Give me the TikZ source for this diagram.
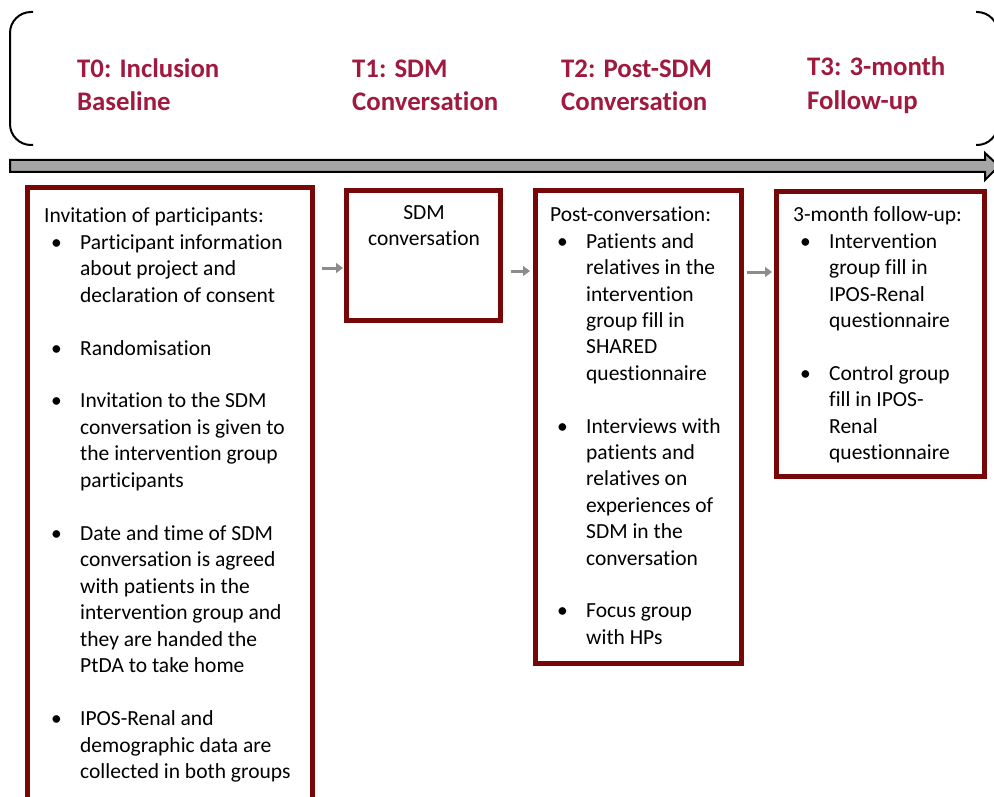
\documentclass[tikz,border=0pt]{standalone}
\usepackage{fontspec}
\setmainfont[Ligatures=CommonOff]{Carlito}
\usetikzlibrary{arrows.meta}
\definecolor{hdrred}{HTML}{A01A40}
\definecolor{boxred}{HTML}{780808}
\definecolor{bandgray}{HTML}{A6A6A6}
\definecolor{smallgray}{HTML}{8C8C8C}
\newcommand\bl{\makebox[36pt][l]{\hspace{7pt}\textbullet}}
\newcommand\ind{\hspace*{36pt}}
\newcommand\rows[1]{\begin{tabular}[t]{@{}l@{}}#1\end{tabular}}
\begin{document}
\begin{tikzpicture}[x=1pt,y=-1pt,
  phase/.style={anchor=base west, inner sep=0pt, text=hdrred,
    font=\fontsize{26.8}{33.5}\selectfont\bfseries},
  body/.style={anchor=base west, inner sep=0pt,
    font=\fontsize{21.5}{26.4}\selectfont},
  redbox/.style={draw=boxred, line width=5pt, inner sep=0pt, fill=none},
  bracket/.style={line width=2pt, rounded corners=21pt},
  sarrow/.style={draw=smallgray, line width=3pt, -{Triangle[length=7pt,width=10pt]}}]
\useasboundingbox (0,0) rectangle (994,797);
% top brackets
\draw[bracket] (33,12) -- (10,12) -- (10,145) -- (33,145);
\draw[bracket] (976,12) -- (998,12) -- (998,145) -- (976,145);
% timeline arrow
\draw[line width=2pt, fill=bandgray, line join=miter]
  (10,160) -- (985,160) -- (985,153) -- (999,166) -- (985,180) -- (985,172) -- (10,172) -- cycle;
% phase headings
\node[phase] (t0) at (77,77.5) {\rows{T0: Inclusion\\Baseline}};
\node[phase] (t1) at (352,77.5) {\rows{T1: SDM\\Conversation}};
\node[phase] (t2) at (561,77.5) {\rows{T2: Post-SDM\\Conversation}};
\node[phase] (t3) at (807,76) {\rows{T3: 3-month\\Follow-up}};
% boxes
\node[redbox, minimum width=285pt, minimum height=632.5pt] (b1) at (170,503.75) {};
\node[redbox, minimum width=153.5pt, minimum height=129pt] (b2) at (423.25,255.5) {};
\node[redbox, minimum width=206pt, minimum height=472.5pt] (b3) at (638,426.75) {};
\node[redbox, minimum width=208pt, minimum height=284.5pt] (b4) at (880,333.75) {};
% box texts
\node[body, font=\fontsize{21.5}{26.5}\selectfont] (x1) at (44,222.5) {\rows{Invitation of participants:\\
\bl Participant information\\
\ind about project and\\
\ind declaration of consent\\
\\
\bl Randomisation\\
\\
\bl Invitation to the SDM\\
\ind conversation is given to\\
\ind the intervention group\\
\ind participants\\
\\
\bl Date and time of SDM\\
\ind conversation is agreed\\
\ind with patients in the\\
\ind intervention group and\\
\ind they are handed the\\
\ind PtDA to take home\\
\\
\bl IPOS-Renal and\\
\ind demographic data are\\
\ind collected in both groups}};
\node[body, anchor=base] (x2) at (424,219.5) {\begin{tabular}[t]{@{}c@{}}SDM\\conversation\end{tabular}};
\node[body] (x3) at (550,222) {\rows{Post-conversation:\\
\bl Patients and\\
\ind relatives in the\\
\ind intervention\\
\ind group fill in\\
\ind SHARED\\
\ind questionnaire\\
\\
\bl Interviews with\\
\ind patients and\\
\ind relatives on\\
\ind experiences of\\
\ind SDM in the\\
\ind conversation\\
\\
\bl Focus group\\
\ind with HPs}};
\node[body] (x4) at (793,222) {\rows{3-month follow-up:\\
\bl Intervention\\
\ind group fill in\\
\ind IPOS-Renal\\
\ind questionnaire\\
\\
\bl Control group\\
\ind fill in IPOS-\\
\ind Renal\\
\ind questionnaire}};
% small arrows
\draw[sarrow] ([xshift=7pt]b1.east |- 0,268) -- ([xshift=-1pt]b2.west |- 0,268);
\draw[sarrow] ([xshift=8.5pt]b2.east |- 0,271) -- ([xshift=-2.5pt]b3.west |- 0,271);
\draw[sarrow] ([xshift=3.5pt]b3.east |- 0,272) -- ([xshift=-1.5pt]b4.west |- 0,272);
\end{tikzpicture}
\end{document}
